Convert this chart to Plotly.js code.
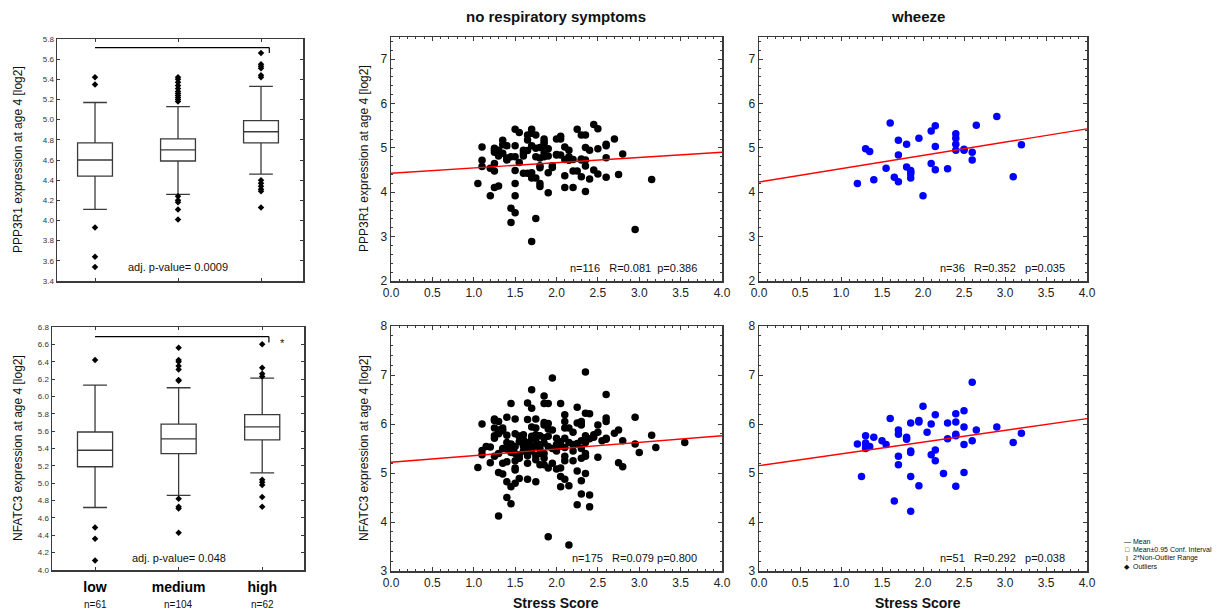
<!DOCTYPE html>
<html>
<head>
<meta charset="utf-8">
<script src="https://cdn.plot.ly/plotly-3.0.1.min.js"></script>
<style>html,body{margin:0;padding:0;background:#fff;}#chart{width:1221px;height:610px;}</style>
</head>
<body>
<div id="chart"></div>
<script>
// ---------------- DATA ----------------
const groups = ['low', 'medium', 'high'];
const groupN = ['n=61', 'n=104', 'n=62'];

// PPP3R1 box statistics (top-left)
const pppQ1 = [4.44, 4.59, 4.77];
const pppMedian = [4.60, 4.70, 4.88];
const pppQ3 = [4.77, 4.81, 4.99];
const pppLower = [4.11, 4.26, 4.46];
const pppUpper = [5.17, 5.13, 5.33];
const pppOutLow = [5.42, 5.35, 3.93, 3.64, 3.54];
const pppOutMedium = [5.42, 5.40, 5.37, 5.34, 5.31, 5.28, 5.26, 5.24, 5.22, 5.20, 5.18, 4.24, 4.20, 4.18, 4.11, 4.01];
const pppOutHigh = [5.66, 5.55, 5.53, 5.51, 5.44, 5.42, 4.40, 4.37, 4.34, 4.31, 4.29, 4.13];

// NFATC3 box statistics (bottom-left)
const nfQ1 = [5.19, 5.34, 5.50];
const nfMedian = [5.38, 5.51, 5.65];
const nfQ3 = [5.59, 5.68, 5.79];
const nfLower = [4.72, 4.86, 5.12];
const nfUpper = [6.13, 6.10, 6.21];
const nfOutLow = [6.42, 4.49, 4.36, 4.11];
const nfOutMedium = [6.56, 6.42, 6.40, 6.35, 6.31, 6.19, 6.18, 4.82, 4.73, 4.71, 4.43];
const nfOutHigh = [6.60, 6.33, 6.26, 6.23, 5.04, 5.01, 4.98, 4.84, 4.73];

// No respiratory symptoms, PPP3R1 vs stress score
const nrsPppX = [1.05, 1.1,1.1,1.1, 1.2,1.2, 1.25,1.25,1.25,1.25,1.25, 1.3,1.3,1.3, 1.35,1.35,1.35, 1.4,1.4,1.4,
  1.45,1.45,1.45, 1.5,1.5,1.5,1.5,1.5,1.5,1.5, 1.55,1.55, 1.6,1.6,1.6, 1.65,1.65,1.65,1.65, 1.7,1.7,1.7,1.7,1.7,1.7,
  1.75,1.75,1.75,1.75, 1.8,1.8,1.8,1.8,1.8, 1.85,1.85,1.85,1.85,1.85, 1.9,1.9,1.9,1.9, 1.95,1.95, 2.0,2.0,
  2.05,2.05,2.05, 2.1,2.1,2.1,2.1, 2.15,2.15,2.15, 2.2,2.2,2.2, 2.25,2.25, 2.3,2.3,2.3, 2.35,2.35,2.35,2.35,2.35,
  2.4,2.4, 2.45,2.45, 2.5,2.5,2.5, 2.6,2.6,2.6,2.6, 2.7, 2.75, 2.8, 2.95, 3.15,
  1.3,1.4,1.6,1.75,1.85,2.0,2.15,2.3,1.25,1.8];
const nrsPppY = [4.20, 5.02,4.72,4.58, 3.92,4.54, 4.99,4.90,4.65,4.48,4.11, 4.95,4.82,4.14, 5.17,5.07,4.88, 5.05,4.77,4.73,
  4.80,3.64,3.32, 5.42,5.05,4.80,4.49,4.20,3.92,3.54, 5.35,4.67, 4.88,4.82,4.43, 5.29,5.18,4.94,4.43, 5.42,5.33,5.05,4.44,4.32,2.89,
  5.29,4.99,4.32,3.41, 5.01,4.77,4.60,4.20,4.13, 5.20,5.14,5.09,4.89,4.80, 4.98,4.82,4.44,3.99, 4.60,4.56, 5.20,4.84,
  5.26,5.20,4.84, 5.02,4.74,4.37,4.11, 4.95,4.80,4.74, 4.74,4.48,4.11, 5.42,4.48, 5.29,4.73,4.35, 5.29,5.01,4.73,4.59,4.02,
  4.95,4.30, 5.53,4.50, 5.43,4.98,4.41, 5.08,5.05,4.78,4.34, 5.20, 4.40, 4.86, 3.16, 4.29,
  4.85,4.75,4.95,4.80,5.00,4.85,4.72,4.75,4.95,4.55];

// No respiratory symptoms, NFATC3 vs stress score
const nrsNfX = [1.05, 1.1,1.1,1.1, 1.15, 1.2,1.2, 1.25,1.25,1.25,1.25,1.25,1.25, 1.3,1.3,1.3,1.3,1.3, 1.35,1.35,1.35,1.35,
  1.4,1.4,1.4,1.4,1.4,1.4, 1.45,1.45,1.45,1.45,1.45, 1.5,1.5,1.5,1.5,1.5,1.5,1.5, 1.55,1.55,1.55,1.55,1.55, 1.6,1.6,
  1.65,1.65,1.65,1.65,1.65,1.65, 1.7,1.7,1.7,1.7,1.7,1.7,1.7, 1.75,1.75,1.75,1.75,1.75,1.75, 1.8,1.8,1.8,1.8,
  1.85,1.85,1.85,1.85,1.85,1.85,1.85, 1.9,1.9,1.9,1.9,1.9,1.9, 1.95,1.95,1.95, 2.0,2.0,2.0, 2.05,2.05,2.05,2.05,2.05,
  2.1,2.1,2.1,2.1,2.1,2.1,2.1, 2.15,2.15,2.15,2.15, 2.2,2.2,2.2, 2.25,2.25,2.25,2.25, 2.3,2.3,2.3,2.3,2.3,2.3,
  2.35,2.35,2.35,2.35,2.35,2.35,2.35, 2.4,2.4,2.4, 2.45,2.45, 2.5,2.5,2.5, 2.55, 2.6,2.6,2.6,2.6,2.6, 2.7, 2.75,2.75,
  2.8,2.8, 2.95,2.95, 3.0, 3.15, 3.2, 3.55,
  1.55,1.6,1.6,1.65,1.7,1.75,1.75,1.8,1.85,1.9,1.95,2.0,1.45,1.4,1.35,1.3,2.05,2.1,2.2,2.25,2.3,1.5,1.65,1.85,2.4];
const nrsNfY = [5.11, 6.00,5.46,5.37, 5.54, 5.53,5.21, 6.10,6.07,5.92,5.76,5.71,5.34, 6.05,5.88,5.80,5.01,4.12, 5.92,5.86,5.20,4.98,
  6.14,5.77,5.49,5.23,4.82,4.50, 6.42,5.59,5.49,4.72,4.37, 6.10,5.80,5.54,5.40,5.10,5.06,4.79, 5.75,5.64,5.37,5.30,4.89, 5.78,5.68,
  6.43,6.09,5.61,5.51,5.35,4.87, 6.70,6.32,5.94,5.75,5.69,5.54,5.51, 6.10,5.92,5.78,5.68,5.27,4.82, 5.76,5.58,5.40,5.17,
  6.57,6.42,6.03,5.98,5.61,5.40,5.17, 6.42,6.01,5.90,5.54,5.10,3.70, 6.94,5.88,5.20, 5.71,5.58,5.08, 6.42,5.64,5.10,4.93,4.72,
  6.19,6.05,5.92,5.71,5.52,5.34,4.87, 5.92,5.62,4.74,3.53, 5.83,5.58,5.25, 6.34,6.02,5.04,4.35, 6.05,5.98,5.66,5.30,4.84,4.57,
  7.06,6.22,5.76,5.62,5.40,5.34,4.99, 6.21,4.55,4.31, 5.78,5.73, 5.98,5.83,5.32, 5.66, 6.60,6.12,6.05,5.71,5.69, 5.81, 5.88,5.21,
  5.66,5.13, 6.14,5.59, 5.42, 5.77, 5.52, 5.62,
  5.75,5.55,5.45,5.62,5.45,5.55,5.35,5.50,5.72,5.75,5.50,5.45,5.42,5.62,5.50,5.40,5.55,5.25,5.45,5.60,5.50,5.25,5.20,5.30,5.70];

// Wheeze, PPP3R1 vs stress score
const whzPppX = [1.2, 1.3, 1.35, 1.4, 1.55, 1.6, 1.65, 1.7, 1.7, 1.7, 1.8, 1.8, 1.85, 1.85, 1.85, 1.95, 2.0, 2.1, 2.1,
  2.15, 2.15, 2.15, 2.3, 2.4, 2.4, 2.4, 2.4, 2.5, 2.6, 2.6, 2.65, 2.9, 3.1, 3.2, 2.5, 1.85];
const whzPppY = [4.20, 4.98, 4.92, 4.28, 4.54, 5.56, 4.34, 5.17, 4.84, 4.24, 5.08, 4.57, 4.49, 4.41, 4.32, 5.22, 3.92, 5.38, 4.65,
  5.50, 5.03, 4.51, 4.53, 5.32, 5.22, 5.08, 4.95, 4.95, 4.90, 4.73, 5.51, 5.71, 4.35, 5.07, 4.97, 4.45];

// Wheeze, NFATC3 vs stress score
const whzNfX = [1.2, 1.25, 1.3, 1.3, 1.3, 1.35, 1.4, 1.5, 1.55, 1.6, 1.65, 1.7, 1.7, 1.7, 1.7, 1.8, 1.8, 1.85, 1.85, 1.85,
  1.85, 1.85, 1.95, 1.95, 1.95, 2.0, 2.05, 2.1, 2.1, 2.15, 2.15, 2.15, 2.25, 2.3, 2.3, 2.4, 2.4, 2.4, 2.4, 2.4, 2.5, 2.5,
  2.5, 2.5, 2.6, 2.6, 2.65, 2.9, 3.1, 3.2, 1.3];
const whzNfY = [5.59, 4.93, 5.76, 5.61, 5.53, 5.54, 5.73, 5.66, 5.58, 6.11, 4.43, 5.88, 5.79, 5.34, 5.17, 5.73, 5.69, 6.02, 5.45,
  5.42, 4.93, 4.22, 6.07, 6.04, 4.74, 6.36, 5.83, 6.00, 5.37, 6.19, 5.47, 5.25, 4.99, 6.02, 5.70, 6.21, 6.04, 5.79, 5.76, 4.73,
  6.27, 5.94, 5.58, 5.01, 6.85, 5.66, 5.88, 5.94, 5.62, 5.81, 5.50];

// Regression fits [intercept, slope]
const fitNrsPpp = [4.43, 0.118];
const fitNrsNf = [5.22, 0.135];
const fitWhzPpp = [4.23, 0.30];
const fitWhzNf = [5.15, 0.24];

const statNrsPpp = 'n=116   R=0.081  p=0.386';
const statNrsNf = 'n=175   R=0.079 p=0.800';
const statWhzPpp = 'n=36   R=0.352   p=0.035';
const statWhzNf = 'n=51   R=0.292   p=0.038';

// ---------------- LAYOUT HELPERS ----------------
const W = 1221, H = 610;
const dx = (a, b) => [a / W, b / W];
const dy = (top, bottom) => [(H - bottom) / H, (H - top) / H];
const FONT = 'Arial, "Liberation Sans", sans-serif';
const LINE = '#3a3a3a';

function boxTrace(q1, med, q3, lo, hi, xa, ya) {
  return {
    type: 'box', x: groups, q1: q1, median: med, q3: q3, lowerfence: lo, upperfence: hi,
    boxpoints: false, width: 0.42, whiskerwidth: 0.68,
    fillcolor: '#ffffff', line: {color: LINE, width: 1.3},
    xaxis: xa, yaxis: ya, showlegend: false, hoverinfo: 'y'
  };
}
function outTrace(vals, g, xa, ya) {
  return {
    type: 'scatter', mode: 'markers', x: vals.map(() => g), y: vals,
    marker: {symbol: 'diamond', size: 5, color: '#000'},
    xaxis: xa, yaxis: ya, showlegend: false
  };
}
function ptTrace(x, y, color, xa, ya) {
  return {
    type: 'scatter', mode: 'markers', x: x, y: y,
    marker: {size: 7.5, color: color},
    xaxis: xa, yaxis: ya, showlegend: false
  };
}
function fitTrace(fit, xa, ya) {
  const xs = [0, 4];
  return {
    type: 'scatter', mode: 'lines', x: xs, y: xs.map(v => fit[0] + fit[1] * v),
    line: {color: '#ff0000', width: 1.4}, xaxis: xa, yaxis: ya, showlegend: false, hoverinfo: 'skip'
  };
}

const traces = [
  boxTrace(pppQ1, pppMedian, pppQ3, pppLower, pppUpper, 'x', 'y'),
  outTrace(pppOutLow, 'low', 'x', 'y'), outTrace(pppOutMedium, 'medium', 'x', 'y'), outTrace(pppOutHigh, 'high', 'x', 'y'),
  boxTrace(nfQ1, nfMedian, nfQ3, nfLower, nfUpper, 'x2', 'y2'),
  outTrace(nfOutLow, 'low', 'x2', 'y2'), outTrace(nfOutMedium, 'medium', 'x2', 'y2'), outTrace(nfOutHigh, 'high', 'x2', 'y2'),
  ptTrace(nrsPppX, nrsPppY, '#000000', 'x3', 'y3'), fitTrace(fitNrsPpp, 'x3', 'y3'),
  ptTrace(nrsNfX, nrsNfY, '#000000', 'x4', 'y4'), fitTrace(fitNrsNf, 'x4', 'y4'),
  ptTrace(whzPppX, whzPppY, '#0000ff', 'x5', 'y5'), fitTrace(fitWhzPpp, 'x5', 'y5'),
  ptTrace(whzNfX, whzNfY, '#0000ff', 'x6', 'y6'), fitTrace(fitWhzNf, 'x6', 'y6')
];

const baseAxis = {
  showline: true, linecolor: LINE, linewidth: 1.5, mirror: 'ticks', ticks: 'inside',
  tickcolor: LINE, showgrid: false, zeroline: false, fixedrange: true
};
function boxX(domain, range, labels, anchor) {
  return Object.assign({}, baseAxis, {
    domain: domain, anchor: anchor, type: 'category', categoryorder: 'array', categoryarray: groups,
    range: range, ticklen: 3, tickmode: 'array', tickvals: groups,
    ticktext: groups.map(g => '<b>' + g + '</b>'), showticklabels: labels,
    tickfont: {family: FONT, size: 14, color: '#000'}, ticklabelstandoff: 4
  });
}
function boxY(domain, range, anchor) {
  return Object.assign({}, baseAxis, {
    domain: domain, anchor: anchor, range: range, dtick: 0.2, tick0: 0, tickformat: '.1f', ticklen: 3,
    tickfont: {family: FONT, size: 8, color: '#333'}
  });
}
function scX(domain, anchor) {
  return Object.assign({}, baseAxis, {
    domain: domain, anchor: anchor, range: [0, 4], dtick: 0.5, tick0: 0, tickformat: '.1f', ticklen: 4,
    minor: {dtick: 0.1, ticks: 'inside', ticklen: 2, tickcolor: LINE, showgrid: false},
    tickfont: {family: FONT, size: 12, color: '#222'}
  });
}
function scY(domain, range, anchor) {
  return Object.assign({}, baseAxis, {
    domain: domain, anchor: anchor, range: range, dtick: 1, tick0: 0, ticklen: 4,
    minor: {dtick: 0.2, ticks: 'inside', ticklen: 2, tickcolor: LINE, showgrid: false},
    tickfont: {family: FONT, size: 12, color: '#222'}
  });
}

function txt(text, x, y, opts) {
  return Object.assign({
    text: text, x: x, y: y, xref: 'paper', yref: 'paper', showarrow: false,
    font: {family: FONT, size: 12, color: '#111'}, xanchor: 'center', yanchor: 'middle'
  }, opts || {});
}
const px = v => v / W, py = v => (H - v) / H;

const annotations = [
  txt('<b>no respiratory symptoms</b>', px(556), py(17), {font: {family: FONT, size: 15, color: '#111'}}),
  txt('<b>wheeze</b>', px(918), py(17), {font: {family: FONT, size: 15, color: '#111'}}),
  txt('PPP3R1 expression at age 4 [log2]', px(18), py(160), {textangle: -90}),
  txt('NFATC3 expression at age 4 [log2]', px(18), py(448), {textangle: -90}),
  txt('PPP3R1 expression at age 4 [log2]', px(364), py(159), {textangle: -90}),
  txt('NFATC3 expression at age 4 [log2]', px(364), py(448), {textangle: -90}),
  txt('<b>Stress Score</b>', px(556), py(603), {font: {family: FONT, size: 14, color: '#111'}}),
  txt('<b>Stress Score</b>', px(918), py(603), {font: {family: FONT, size: 14, color: '#111'}}),
  txt('adj. p-value= 0.0009', 1, 3.535, {xref: 'x', yref: 'y', font: {family: FONT, size: 11, color: '#111'}}),
  txt('adj. p-value= 0.048', 1, 4.14, {xref: 'x2', yref: 'y2', font: {family: FONT, size: 11, color: '#111'}}),
  txt('*', 2.24, 6.62, {xref: 'x2', yref: 'y2', font: {family: FONT, size: 11, color: '#111'}}),
  txt(statNrsPpp, 3.72, 2.29, {xref: 'x3', yref: 'y3', xanchor: 'right', font: {family: FONT, size: 11, color: '#111'}}),
  txt(statNrsNf, 3.72, 3.27, {xref: 'x4', yref: 'y4', xanchor: 'right', font: {family: FONT, size: 11, color: '#111'}}),
  txt(statWhzPpp, 3.75, 2.29, {xref: 'x5', yref: 'y5', xanchor: 'right', font: {family: FONT, size: 11, color: '#111'}}),
  txt(statWhzNf, 3.76, 3.27, {xref: 'x6', yref: 'y6', xanchor: 'right', font: {family: FONT, size: 11, color: '#111'}})
];
groupN.forEach((n, i) => {
  annotations.push(txt(n, groups[i], py(604), {xref: 'x2', font: {family: FONT, size: 10, color: '#111'}}));
});
const legendItems = [['\u2014', 'Mean'], ['\u25A1', 'Mean\u00B10.95 Conf. Interval'], ['I', '2*Non-Outlier Range'], ['\u25C6', 'Outliers']];
legendItems.forEach((it, i) => {
  annotations.push(txt(it[0], px(1127), py(541 + i * 8.5), {font: {family: FONT, size: 7, color: '#111'}}));
  annotations.push(txt(it[1], px(1131), py(541 + i * 8.5), {xanchor: 'left', font: {family: FONT, size: 7, color: '#111'}}));
});

const shapes = [
  {type: 'line', xref: 'x', yref: 'y', x0: 0, x1: 2.1, y0: 5.715, y1: 5.715, line: {color: '#000', width: 1.2}},
  {type: 'line', xref: 'x', yref: 'y', x0: 2.1, x1: 2.1, y0: 5.715, y1: 5.66, line: {color: '#000', width: 1.2}},
  {type: 'line', xref: 'x2', yref: 'y2', x0: 0, x1: 2.08, y0: 6.69, y1: 6.69, line: {color: '#000', width: 1.2}},
  {type: 'line', xref: 'x2', yref: 'y2', x0: 2.08, x1: 2.08, y0: 6.69, y1: 6.62, line: {color: '#000', width: 1.2}}
];

const layout = {
  width: W, height: H, margin: {l: 0, r: 0, t: 0, b: 0},
  paper_bgcolor: '#fff', plot_bgcolor: '#fff', showlegend: false,
  font: {family: FONT, color: '#111'},
  xaxis: boxX(dx(57, 303), [-0.458, 2.506], false, 'y'),
  yaxis: boxY(dy(39, 281), [3.4, 5.8], 'x'),
  xaxis2: boxX(dx(52, 304), [-0.515, 2.5], true, 'y2'),
  yaxis2: boxY(dy(327, 570), [4.0, 6.8], 'x2'),
  xaxis3: scX(dx(391, 722), 'y3'),
  yaxis3: scY(dy(37, 281), [2, 7.5], 'x3'),
  xaxis4: scX(dx(391, 722), 'y4'),
  yaxis4: scY(dy(326, 571), [3, 8], 'x4'),
  xaxis5: scX(dx(759, 1087), 'y5'),
  yaxis5: scY(dy(37, 281), [2, 7.5], 'x5'),
  xaxis6: scX(dx(759, 1087), 'y6'),
  yaxis6: scY(dy(326, 571), [3, 8], 'x6'),
  annotations: annotations, shapes: shapes
};

Plotly.newPlot('chart', traces, layout, {displayModeBar: false, staticPlot: true});
</script>
</body>
</html>
